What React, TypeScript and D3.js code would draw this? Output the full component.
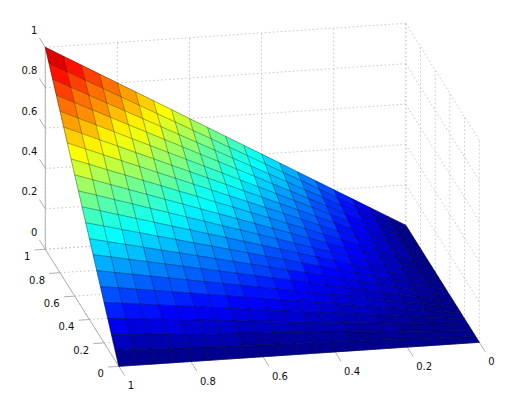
import React from "react";
import * as d3 from "d3";

const xValues = [0, 0.05, 0.1, 0.15, 0.2, 0.25, 0.3, 0.35, 0.4, 0.45, 0.5, 0.55, 0.6, 0.65, 0.7, 0.75, 0.8, 0.85, 0.9, 0.95, 1];
const yValues = xValues;

// one row per y value, one column per x value
const zValues = [
  [0, 0, 0, 0, 0, 0, 0, 0, 0, 0, 0, 0, 0, 0, 0, 0, 0, 0, 0, 0, 0],
  [0, .003, .005, .008, .01, .013, .015, .018, .02, .023, .025, .028, .03, .033, .035, .038, .04, .043, .045, .048, .05],
  [0, .005, .01, .015, .02, .025, .03, .035, .04, .045, .05, .055, .06, .065, .07, .075, .08, .085, .09, .095, .1],
  [0, .008, .015, .023, .03, .038, .045, .053, .06, .068, .075, .083, .09, .098, .105, .113, .12, .128, .135, .143, .15],
  [0, .01, .02, .03, .04, .05, .06, .07, .08, .09, .1, .11, .12, .13, .14, .15, .16, .17, .18, .19, .2],
  [0, .013, .025, .038, .05, .063, .075, .088, .1, .113, .125, .138, .15, .163, .175, .188, .2, .213, .225, .238, .25],
  [0, .015, .03, .045, .06, .075, .09, .105, .12, .135, .15, .165, .18, .195, .21, .225, .24, .255, .27, .285, .3],
  [0, .018, .035, .053, .07, .088, .105, .123, .14, .158, .175, .193, .21, .228, .245, .263, .28, .298, .315, .333, .35],
  [0, .02, .04, .06, .08, .1, .12, .14, .16, .18, .2, .22, .24, .26, .28, .3, .32, .34, .36, .38, .4],
  [0, .023, .045, .068, .09, .113, .135, .158, .18, .203, .225, .248, .27, .293, .315, .338, .36, .383, .405, .428, .45],
  [0, .025, .05, .075, .1, .125, .15, .175, .2, .225, .25, .275, .3, .325, .35, .375, .4, .425, .45, .475, .5],
  [0, .028, .055, .083, .11, .138, .165, .193, .22, .248, .275, .303, .33, .358, .385, .413, .44, .468, .495, .523, .55],
  [0, .03, .06, .09, .12, .15, .18, .21, .24, .27, .3, .33, .36, .39, .42, .45, .48, .51, .54, .57, .6],
  [0, .033, .065, .098, .13, .163, .195, .228, .26, .293, .325, .358, .39, .423, .455, .488, .52, .553, .585, .618, .65],
  [0, .035, .07, .105, .14, .175, .21, .245, .28, .315, .35, .385, .42, .455, .49, .525, .56, .595, .63, .665, .7],
  [0, .038, .075, .113, .15, .188, .225, .263, .3, .338, .375, .413, .45, .488, .525, .563, .6, .638, .675, .713, .75],
  [0, .04, .08, .12, .16, .2, .24, .28, .32, .36, .4, .44, .48, .52, .56, .6, .64, .68, .72, .76, .8],
  [0, .043, .085, .128, .17, .213, .255, .298, .34, .383, .425, .468, .51, .553, .595, .638, .68, .723, .765, .808, .85],
  [0, .045, .09, .135, .18, .225, .27, .315, .36, .405, .45, .495, .54, .585, .63, .675, .72, .765, .81, .855, .9],
  [0, .048, .095, .143, .19, .238, .285, .333, .38, .428, .475, .523, .57, .618, .665, .713, .76, .808, .855, .903, .95],
  [0, .05, .1, .15, .2, .25, .3, .35, .4, .45, .5, .55, .6, .65, .7, .75, .8, .85, .9, .95, 1],
];

const xTicks = [0, 0.2, 0.4, 0.6, 0.8, 1];
const yTicks = [0, 0.2, 0.4, 0.6, 0.8, 1];
const zTicks = [0, 0.2, 0.4, 0.6, 0.8, 1];

// orthographic view: each data axis moves the point along its own screen vector
const originX = 479.3;
const originY = 342.3;
const xToDx = d3.scaleLinear().domain([0, 1]).range([0, -360.5]);
const xToDy = d3.scaleLinear().domain([0, 1]).range([0, 24]);
const yToDx = d3.scaleLinear().domain([0, 1]).range([0, -73.5]);
const yToDy = d3.scaleLinear().domain([0, 1]).range([0, -117]);
const zToDy = d3.scaleLinear().domain([0, 1]).range([0, -202]);

function project(x: number, y: number, z: number): [number, number] {
  return [originX + xToDx(x) + yToDx(y), originY + xToDy(x) + yToDy(y) + zToDy(z)];
}

// jet colormap, 64 levels
const jet = d3
  .scaleLinear<string>()
  .domain([0, 7, 23, 39, 55, 63])
  .range(["rgb(0,0,143)", "rgb(0,0,255)", "rgb(0,255,255)", "rgb(255,255,0)", "rgb(255,0,0)", "rgb(128,0,0)"]);
const cellColor = (z: number) => jet(Math.min(63, Math.floor(z * 64)));

const line = d3.line();
const gridColor = "#c6c6c6";
const axisColor = "#b0b0b0";

function Grid({ from, to }: { from: [number, number, number]; to: [number, number, number] }) {
  return (
    <path
      d={line([project(...from), project(...to)]) as string}
      fill="none"
      stroke={gridColor}
      strokeWidth={1}
      strokeDasharray="1.5 2.5"
    />
  );
}

function Axis({ from, to }: { from: [number, number]; to: [number, number] }) {
  return <path d={line([from, to]) as string} fill="none" stroke={axisColor} strokeWidth={1} />;
}

export default function App() {
  const cells = [];
  for (let j = yValues.length - 2; j >= 0; j--) {
    for (let i = xValues.length - 2; i >= 0; i--) {
      const pts = [
        project(xValues[i], yValues[j], zValues[j][i]),
        project(xValues[i + 1], yValues[j], zValues[j][i + 1]),
        project(xValues[i + 1], yValues[j + 1], zValues[j + 1][i + 1]),
        project(xValues[i], yValues[j + 1], zValues[j + 1][i]),
      ];
      // fill first so the seams close, then a faint edge on top
      cells.push(
        <path
          key={`${i}-${j}`}
          d={line(pts) + "Z"}
          fill={cellColor(zValues[j][i])}
          stroke={cellColor(zValues[j][i])}
          strokeWidth={0.5}
          strokeLinejoin="round"
        />
      );
    }
  }
  const edges = [];
  for (let j = 0; j < yValues.length; j++) {
    edges.push(
      <path
        key={`row${j}`}
        d={line(xValues.map((x, i) => project(x, yValues[j], zValues[j][i]))) as string}
        fill="none"
        stroke="#000"
        strokeOpacity={0.42}
        strokeWidth={0.8}
      />
    );
  }
  for (let i = 0; i < xValues.length; i++) {
    edges.push(
      <path
        key={`col${i}`}
        d={line(yValues.map((y, j) => project(xValues[i], y, zValues[j][i]))) as string}
        fill="none"
        stroke="#000"
        strokeOpacity={0.42}
        strokeWidth={0.8}
      />
    );
  }

  return (
    <svg
      width={516}
      height={400}
      style={{ position: "absolute", left: 0, top: 0, background: "#fff" }}
      fontFamily="'DejaVu Sans'"
      fontSize={10}
    >
      {zTicks.map((z) => (
        <g key={z}>
          <Grid from={[1, 1, z]} to={[0, 1, z]} />
          <Grid from={[0, 1, z]} to={[0, 0, z]} />
        </g>
      ))}
      {xTicks.map((x) => (
        <g key={x}>
          <Grid from={[x, 1, 0]} to={[x, 1, 1]} />
          <Grid from={[x, 0, 0]} to={[x, 1, 0]} />
        </g>
      ))}
      {yTicks.map((y) => (
        <g key={y}>
          <Grid from={[0, y, 0]} to={[0, y, 1]} />
          <Grid from={[1, y, 0]} to={[0, y, 0]} />
        </g>
      ))}

      <Axis from={project(1, 1, 0)} to={project(1, 1, 1)} />
      <Axis from={project(1, 0, 0)} to={project(1, 1, 0)} />
      <Axis from={project(1, 0, 0)} to={project(0, 0, 0)} />
      {zTicks.map((z) => (
        <Axis key={z} from={project(1, 1, z)} to={project(1, 1.08, z)} />
      ))}
      {yTicks.map((y) => (
        <Axis key={y} from={project(1, y, 0)} to={project(1.03, y, 0)} />
      ))}
      {xTicks.map((x) => (
        <Axis key={x} from={project(x, 0, 0)} to={project(x, -0.08, 0)} />
      ))}

      {cells}
      {edges}

      <g fill="#111">
        {zTicks.map((z) => {
          const [px, py] = project(1, 1, z);
          return (
            <text key={z} x={px - 8} y={py - 17} textAnchor="end" dominantBaseline="central">
              {z}
            </text>
          );
        })}
        {yTicks.map((y) => {
          const [px, py] = project(1, y, 0);
          return (
            <text key={y} x={px - 15} y={py + 7.4} textAnchor="end" dominantBaseline="central">
              {y}
            </text>
          );
        })}
        {xTicks.map((x) => {
          const [px, py] = project(x, 0, 0);
          return (
            <text key={x} x={px + 9} y={py + 19.5} dominantBaseline="central">
              {x}
            </text>
          );
        })}
      </g>
    </svg>
  );
}
